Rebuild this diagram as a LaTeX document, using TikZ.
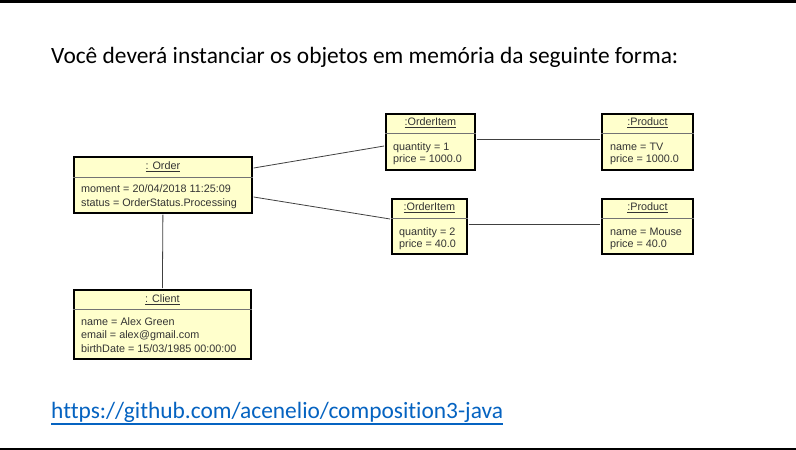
\documentclass[tikz,border=0pt]{standalone}
\usepackage{fontspec}
\setmainfont{Carlito}[Ligatures=NoCommon]
\newfontfamily\umlfont{Liberation Sans}
\usetikzlibrary{calc}
\definecolor{boxfill}{HTML}{FFFFCC}
\definecolor{linkblue}{HTML}{0563C1}
\definecolor{umltext}{HTML}{333333}
\tikzset{
  x=1pt, y=-1pt,
  obj/.style={draw=black, line width=1.8pt, fill=boxfill, inner sep=0pt, anchor=north west},
  hdr/.style={inner sep=0pt, anchor=center, font=\umlfont\fontsize{10.8}{12}\selectfont, text=umltext},
  attr/.style={inner sep=0pt, anchor=base west, font=\umlfont\fontsize{10.8}{12}\selectfont, text=umltext},
  divider/.style={draw=black!55, line width=0.7pt},
  conn/.style={draw=black!75, line width=0.8pt},
  slide/.style={inner sep=0pt, anchor=base west, font=\fontsize{23.4}{28}\selectfont}
}
\begin{document}
\begin{tikzpicture}
\useasboundingbox (0,0) rectangle (796,450);
\fill[white] (0,0) rectangle (796,450);
% slide rules
\fill[black] (0,0) rectangle (796,2.5);
\fill[black] (0,448.3) rectangle (796,450);

% title and link
\node[slide] (title) at (51,63) {Você deverá instanciar os objetos em memória da seguinte forma:};
\node[slide, text=linkblue] (url) at (51,418) {https://github.com/acenelio/composition3-java};
\draw[linkblue, line width=1.8pt] ($(url.base west)+(0,6)$) -- ($(url.base east)+(0,6)$);

% Order
\node[obj, minimum width=178pt, minimum height=56pt] (order) at (73,156) {};
\node[hdr] (orderh) at ($(order.north)+(0,11)$) {\underline{: Order}};
\draw[divider] ($(order.north west)+(0,21)$) -- ($(order.north east)+(0,21)$);
\node[attr] (ordera) at ($(order.north west)+(8,36)$) {moment = 20/04/2018 11:25:09};
\node[attr] (orderb) at ($(order.north west)+(8,50)$) {status = OrderStatus.Processing};

% Client
\node[obj, minimum width=177pt, minimum height=69pt] (client) at (73,289) {};
\node[hdr] (clienth) at ($(client.north)+(0,11)$) {\underline{: Client}};
\draw[divider] ($(client.north west)+(0,20)$) -- ($(client.north east)+(0,20)$);
\node[attr] (clienta) at ($(client.north west)+(8,36)$) {name = Alex Green};
\node[attr] (clientb) at ($(client.north west)+(8,49)$) {email = alex@gmail.com};
\node[attr] (clientc) at ($(client.north west)+(8,63)$) {birthDate = 15/03/1985 00:00:00};

% OrderItem 1
\node[obj, minimum width=89pt, minimum height=56pt] (oia) at (385,113) {};
\node[hdr] (oiah) at ($(oia.north)+(0,10)$) {\underline{:OrderItem}};
\draw[divider] ($(oia.north west)+(0,20)$) -- ($(oia.north east)+(0,20)$);
\node[attr] (oiaa) at ($(oia.north west)+(8,37)$) {quantity = 1};
\node[attr] (oiab) at ($(oia.north west)+(8,49)$) {price = 1000.0};

% OrderItem 2
\node[obj, minimum width=75pt, minimum height=55pt] (oib) at (391,198) {};
\node[hdr] (oibh) at ($(oib.north)+(0,10)$) {\underline{:OrderItem}};
\draw[divider] ($(oib.north west)+(0,20)$) -- ($(oib.north east)+(0,20)$);
\node[attr] (oiba) at ($(oib.north west)+(8,37)$) {quantity = 2};
\node[attr] (oibb) at ($(oib.north west)+(8,49)$) {price = 40.0};

% Product 1
\node[obj, minimum width=91pt, minimum height=56pt] (pa) at (601,113) {};
\node[hdr] (pah) at ($(pa.north)+(0,10)$) {\underline{:Product}};
\draw[divider] ($(pa.north west)+(0,20)$) -- ($(pa.north east)+(0,20)$);
\node[attr] (paa) at ($(pa.north west)+(9,37)$) {name = TV};
\node[attr] (pab) at ($(pa.north west)+(9,49)$) {price = 1000.0};

% Product 2
\node[obj, minimum width=91pt, minimum height=55pt] (pb) at (601,198) {};
\node[hdr] (pbh) at ($(pb.north)+(0,10)$) {\underline{:Product}};
\draw[divider] ($(pb.north west)+(0,20)$) -- ($(pb.north east)+(0,20)$);
\node[attr] (pba) at ($(pb.north west)+(9,37)$) {name = Mouse};
\node[attr] (pbb) at ($(pb.north west)+(9,49)$) {price = 40.0};

% connectors
\draw[conn] ($(order.north east)+(0.9,12)$) -- ($(oia.north west)+(-0.9,33)$);
\draw[conn] ($(order.north east)+(0.9,41)$) -- ($(oib.north west)+(-0.9,21)$);
\draw[conn] ($(oia.north east)+(0.9,26)$) -- ($(pa.north west)+(-0.9,26)$);
\draw[conn] ($(oib.north east)+(0.9,26)$) -- ($(pb.north west)+(-0.9,26)$);
\draw[conn] ($(order.south)+(0,0.9)$) -- ($(client.north)+(0,-0.9)$);
\end{tikzpicture}
\end{document}
